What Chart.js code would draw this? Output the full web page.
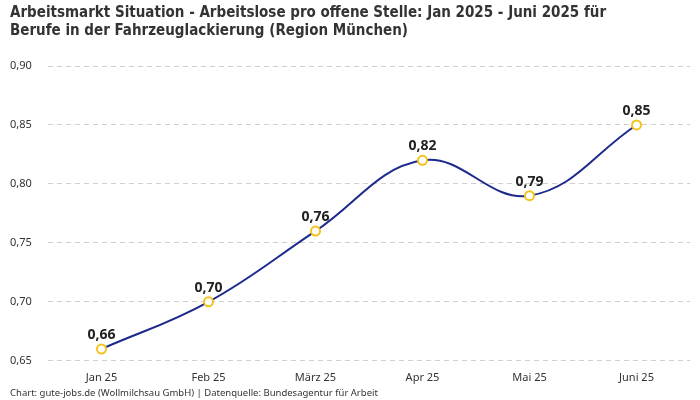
<!DOCTYPE html>
<html>
<head>
<meta charset="utf-8">
<script src="https://cdn.jsdelivr.net/npm/chart.js@4"></script>
<style>
  html, body { margin: 0; padding: 0; background: #fff; }
  #wrap { width: 700px; height: 400px; position: relative; }
</style>
</head>
<body>
<div id="wrap"><canvas id="chart"></canvas></div>
<script>
const months = ["Jan 25", "Feb 25", "März 25", "Apr 25", "Mai 25", "Juni 25"];
const ratio = [0.66, 0.70, 0.76, 0.82, 0.79, 0.85];
const yTicks = [0.65, 0.70, 0.75, 0.80, 0.85, 0.90];
const footer = "Chart: gute-jobs.de (Wollmilchsau GmbH) | Datenquelle: Bundesagentur für Arbeit";

const fmt = v => v.toFixed(2).replace(".", ",");

// Werte über den Punkten + Quellenzeile
const valueLabels = {
  id: "valueLabels",
  afterDatasetsDraw(chart) {
    const ctx = chart.ctx;
    const meta = chart.getDatasetMeta(0);
    ctx.save();
    ctx.font = "bold 14px 'Noto Sans', sans-serif";
    ctx.fillStyle = "#222";
    ctx.textAlign = "center";
    ctx.textBaseline = "bottom";
    meta.data.forEach((pt, i) => {
      ctx.fillText(fmt(ratio[i]), pt.x, pt.y - 7);
    });
    ctx.font = "9.5px 'Noto Sans', sans-serif";
    ctx.fillStyle = "#333";
    ctx.textAlign = "left";
    ctx.textBaseline = "middle";
    ctx.fillText(footer, 10, 393);
    ctx.restore();
  }
};

new Chart(document.getElementById("chart"), {
  type: "line",
  data: {
    labels: months,
    datasets: [{
      data: ratio,
      borderColor: "#1c2a8c",
      borderWidth: 2,
      tension: 0.4,
      pointRadius: 4.5,
      pointBorderWidth: 2,
      pointBackgroundColor: "#fff",
      pointBorderColor: "#f5c21b",
      clip: false
    }]
  },
  options: {
    responsive: true,
    maintainAspectRatio: false,
    animation: false,
    layout: { padding: { left: 10, right: 10, top: 0, bottom: 6 } },
    plugins: {
      legend: { display: false },
      tooltip: { enabled: false },
      title: {
        display: true,
        text: ["Arbeitsmarkt Situation - Arbeitslose pro offene Stelle: Jan 2025 - Juni 2025 für",
               "Berufe in der Fahrzeuglackierung (Region München)"],
        align: "start",
        color: "#333",
        font: { family: "'Liberation Sans Narrow', 'DejaVu Sans Condensed', sans-serif", size: 15, weight: "bold", lineHeight: 1.2 },
        padding: { top: 4, bottom: 26 }
      }
    },
    scales: {
      x: {
        offset: true,
        grid: { display: false, drawTicks: false },
        border: { display: false },
        ticks: { color: "#333", font: { family: "'Noto Sans', sans-serif", size: 11 }, padding: 10 }
      },
      y: {
        min: 0.65,
        max: 0.90,
        afterBuildTicks: axis => { axis.ticks = yTicks.map(v => ({ value: v })); },
        afterFit: axis => { axis.width = 38; },
        grid: { color: "#cfcfcf", drawTicks: false },
        border: { display: false, dash: [5, 4] },
        ticks: {
          color: "#333",
          crossAlign: "far",
          font: { family: "'Noto Sans', sans-serif", size: 11 },
          padding: 14,
          callback: v => fmt(v)
        }
      }
    }
  },
  plugins: [valueLabels]
});
</script>
</body>
</html>
